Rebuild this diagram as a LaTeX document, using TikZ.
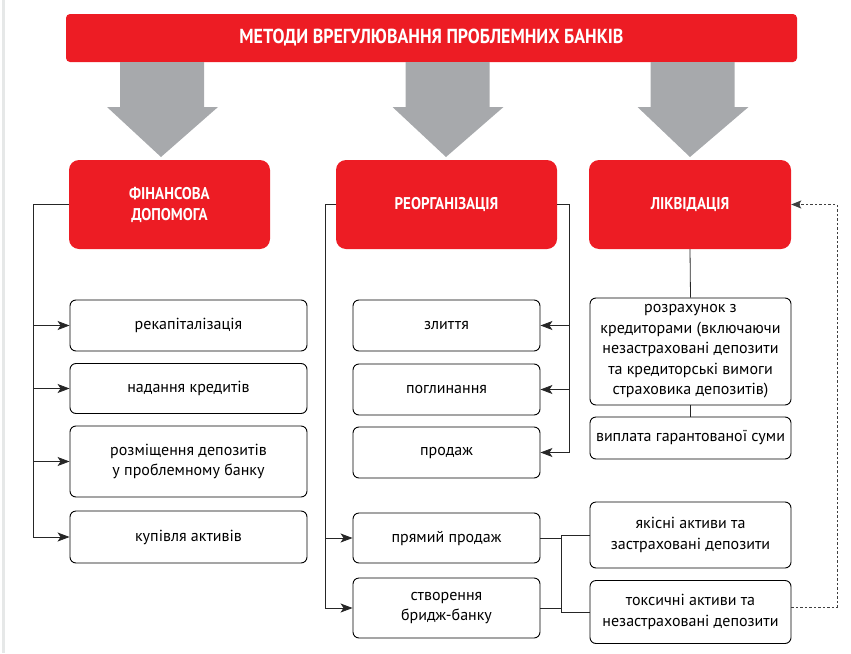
\documentclass[tikz,border=0pt]{standalone}
\usepackage{fontspec}
\setmainfont{PT Sans}
\newfontfamily\headfont[FakeStretch=0.88]{PT Sans}
\usetikzlibrary{arrows.meta}
\definecolor{bankred}{HTML}{ED1C24}
\definecolor{arrowgray}{HTML}{A7A9AC}
\definecolor{bordergray}{HTML}{E6E8E8}
\begin{document}
\begin{tikzpicture}[x=1pt,y=-1pt,
  redbox/.style={fill=bankred, rounded corners=10pt, text=white, font=\headfont\bfseries\fontsize{17}{21}\selectfont, align=center, inner sep=0pt, minimum height=89pt},
  whitebox/.style={draw=black, line width=0.9pt, rounded corners=6pt, fill=white, font=\fontsize{16}{20.5}\selectfont, align=center, inner sep=2pt},
  conn/.style={line width=0.8pt, draw=black!85},
  arr/.style={conn, -{Stealth[length=12pt,width=9pt,inset=3pt]}},
  dotarr/.style={line width=1pt, draw=black!75, dash pattern=on 2.5pt off 2pt, -{Stealth[length=10pt,width=8pt,inset=2pt]}},
  bigarrow/.style={fill=arrowgray}
]
\useasboundingbox (0,0) rectangle (851,653);
\fill[bordergray] (2,0) rectangle (5,653);

% title
\node[fill=bankred, rounded corners=4pt, minimum width=731pt, minimum height=48pt, inner sep=0pt, text=white, font=\headfont\bfseries\fontsize{20.3}{22}\selectfont] (title) at (431.5,38) {МЕТОДИ ВРЕГУЛЮВАННЯ ПРОБЛЕМНИХ БАНКІВ};

% big grey arrows
\foreach \cx/\tx in {162/161, 447.5/446, 692.5/690}{
  \fill[bigarrow] (\cx-42,62) -- (\cx+42,62) -- (\cx+42,107) -- (\cx+56,107) -- (\tx,157) -- (\cx-55,107) -- (\cx-42,107) -- cycle;
}

% red boxes
\node[redbox, minimum width=201pt] (fin) at (169.5,204.5) {ФІНАНСОВА\\ДОПОМОГА};
\node[redbox, minimum width=221pt] (reorg) at (446.5,204.5) {РЕОРГАНІЗАЦІЯ};
\node[redbox, minimum width=202pt] (liq) at (690,204.5) {ЛІКВІДАЦІЯ};

% left column
\node[whitebox, minimum width=237pt, minimum height=51pt] (rekap) at (188.5,325.5) {рекапіталізація};
\node[whitebox, minimum width=237pt, minimum height=50pt] (nad) at (188.5,388.5) {надання кредитів};
\node[whitebox, minimum width=237pt, minimum height=71pt] (rozm) at (188.5,461.5) {розміщення депозитів\\у проблемному банку};
\node[whitebox, minimum width=237pt, minimum height=52pt] (kup) at (188.5,537) {купівля активів};

% middle column
\node[whitebox, minimum width=187pt, minimum height=51pt] (zlyt) at (446.5,325.5) {злиття};
\node[whitebox, minimum width=187pt, minimum height=51pt] (pogl) at (446.5,389.5) {поглинання};
\node[whitebox, minimum width=187pt, minimum height=51pt] (prod) at (446.5,452.5) {продаж};
\node[whitebox, minimum width=187pt, minimum height=50pt] (pryam) at (446.5,538) {прямий продаж};
\node[whitebox, minimum width=187pt, minimum height=60pt] (bridge) at (446.5,608) {створення\\бридж-банку};

% right column
\node[whitebox, minimum width=201pt, minimum height=107pt] (rozr) at (690.5,351.5) {розрахунок з\\кредиторами (включаючи\\незастраховані депозити\\та кредиторські вимоги\\страховика депозитів)};
\node[whitebox, minimum width=201pt, minimum height=42pt] (vypl) at (690.5,438) {виплата гарантованої суми};
\node[whitebox, minimum width=201pt, minimum height=66pt] (yak) at (690.5,535) {якісні активи та\\застраховані депозити};
\node[whitebox, minimum width=201pt, minimum height=63pt] (toks) at (690.5,612) {токсичні активи та\\незастраховані депозити};

% buses
\coordinate (lbus) at (33,0);
\coordinate (mlbus) at (325,0);
\coordinate (mrbus) at (569,0);
\coordinate (sbus) at (561,0);
\coordinate (rbus) at (837,0);

% left connectors
\draw[conn] (fin.west) -| (lbus |- kup.west);
\foreach \n in {rekap,nad,rozm,kup}{
  \draw[arr] (lbus |- \n.west) -- (\n.west);
}

% middle connectors
\draw[conn] (reorg.west) -| (mlbus |- bridge.west);
\draw[arr] (mlbus |- pryam.west) -- (pryam.west);
\draw[arr] (mlbus |- bridge.west) -- (bridge.west);
\draw[conn] (reorg.east) -| (mrbus |- prod.east);
\foreach \n in {zlyt,pogl,prod}{
  \draw[arr] (mrbus |- \n.east) -- (\n.east);
}

% right connectors
\draw[conn] (liq.south) -- (rozr.north);
\draw[conn] (rozr.south) -- (vypl.north);

% bottom connectors
\draw[conn] (pryam.east) -- (sbus |- pryam.east);
\draw[conn] (bridge.east) -- (sbus |- bridge.east);
\draw[conn] (sbus |- yak.west) -- (yak.west);
\draw[conn] (sbus |- toks.west) -- (toks.west);
\draw[conn] (sbus |- yak.west) -- (sbus |- toks.west);

% dotted feedback
\draw[dotarr] ([yshift=5pt]toks.east) -| (rbus |- liq.east) -- (liq.east);
\end{tikzpicture}
\end{document}
